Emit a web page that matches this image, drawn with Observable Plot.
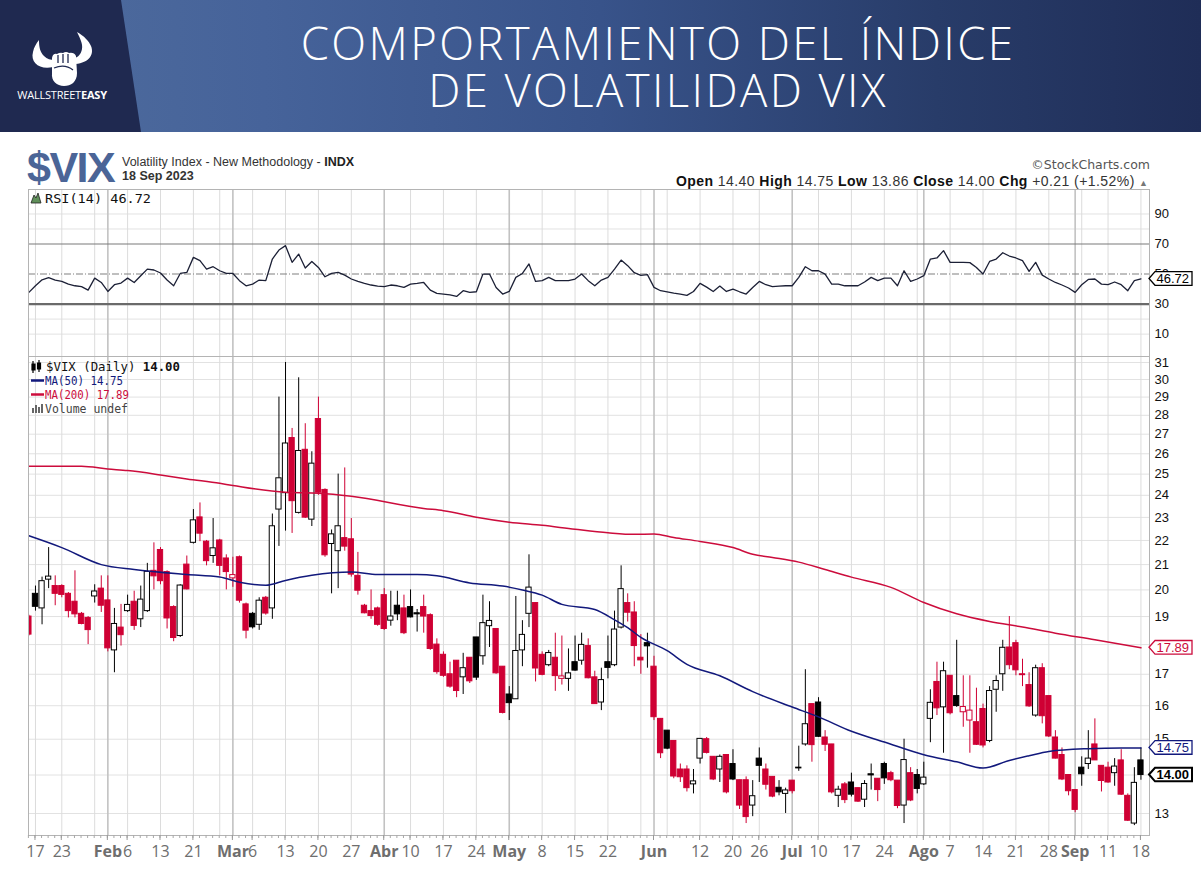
<!DOCTYPE html>
<html lang="es">
<head>
<meta charset="utf-8">
<title>Comportamiento del índice de volatilidad VIX</title>
<script src="https://cdn.jsdelivr.net/npm/d3@7"></script>
<script src="https://cdn.jsdelivr.net/npm/@observablehq/plot@0.6"></script>
<style>
html,body{margin:0;padding:0;background:#fff}
#page{position:relative;width:1201px;height:872px;overflow:hidden;background:#fff}
#hdr{position:absolute;left:0;top:0;width:1201px;height:132px;background:linear-gradient(90deg,#4f6c9d 0%,#46639a 22%,#38538a 50%,#283c69 78%,#1f2d57 100%)}
#logo{position:absolute;left:0;top:0;width:142px;height:132px;background:#1f2950;clip-path:polygon(0 0,121px 0,141px 132px,0 132px)}
#title{position:absolute;left:158px;width:1000px;top:19px;text-align:center;color:#fff;font-family:"Open Sans",sans-serif;font-weight:300;font-size:45.5px;line-height:47px;letter-spacing:2.4px}
.abs{position:absolute;left:0}
</style>
</head>
<body>
<div id="page">
  <div id="hdr"></div>
  <div id="logo">
    <svg width="142" height="132">
      <path d="M53,67 C40,70 30,63 33,52 C34,47 36,44 39,40 C39,47 40,52 44,56 C47,59 51,60 54,60 Z" fill="#fff"/>
      <path d="M73,64 C87,64 95,56 91,46 C89,41 84,36 77,32 C80,38 83,44 82,49 C81,55 77,58 72,59 Z" fill="#fff"/>
      <path d="M52,58 Q53,53 57,54 Q60,52 63,53 Q66,51 69,53 Q74,52 76,56 L77,73 C77,82 71,86 64,86 C57,86 51,81 52,73 Z" fill="#fff"/>
      <path d="M58,55 V63 M63,54 V63 M68,54 V63 M54,68 C61,65 68,66 73,70" stroke="#1f2950" stroke-width="1.3" fill="none"/>
      <text x="62" y="99" text-anchor="middle" font-family="Open Sans" font-size="11" fill="#fff" letter-spacing="-0.2"><tspan font-weight="400">WALLSTREET</tspan><tspan font-weight="700">EASY</tspan></text>
    </svg>
  </div>
  <div id="title">COMPORTAMIENTO DEL ÍNDICE<br>DE VOLATILIDAD VIX</div>
  <svg id="topText" class="abs" style="top:132px" width="1201" height="64">
    <text x="27" y="50" font-family="Liberation Sans" font-weight="700" font-size="43" fill="#4b6597" letter-spacing="-1.5">$VIX</text>
    <text x="122" y="34" font-family="Liberation Sans" font-size="12.5" fill="#333">Volatility Index - New Methodology - <tspan font-weight="700" fill="#222">INDX</tspan></text>
    <text x="122" y="48" font-family="Liberation Sans" font-size="12.5" font-weight="700" fill="#333">18 Sep 2023</text>
    <text x="1150" y="37" text-anchor="end" font-family="DejaVu Sans" font-size="12.5" fill="#555">©StockCharts.com</text>
    <text x="676" y="54" font-family="Liberation Sans" font-size="14" fill="#333" textLength="472" lengthAdjust="spacing"><tspan font-weight="700" fill="#111">Open</tspan> 14.40  <tspan font-weight="700" fill="#111">High</tspan> 14.75  <tspan font-weight="700" fill="#111">Low</tspan> 13.86  <tspan font-weight="700" fill="#111">Close</tspan> 14.00  <tspan font-weight="700" fill="#111">Chg</tspan> +0.21 (+1.52%) <tspan fill="#777" font-size="9">▲</tspan></text>
  </svg>
  <div id="rsi" class="abs" style="top:189px"></div>
  <div id="main" class="abs" style="top:356px"></div>
</div>
<script>
// ---------------- data ----------------
const firstDay = "2023-01-13";
const lastDay = "2023-09-18";
const holidays = ["2023-01-16","2023-02-20","2023-04-07","2023-05-29","2023-06-19","2023-07-04","2023-09-04"];
const closeBeforeStart = 18.83;

const opens = [
  19.0,19.85,19.3,20.4,20.15,20.15,19.85,19.55,19.1,18.95,
  19.75,20.05,19.6,17.8,18.6,19.2,19.55,18.9,19.2,20.75,
  21.6,20.7,19.35,18.3,21.0,21.9,23.0,21.95,21.35,22.0,
  21.25,20.45,21.3,19.45,19.1,18.7,19.7,19.3,23.35,24.1,
  26.8,23.2,26.2,22.9,27.8,24.25,21.85,21.55,22.1,22.05,
  20.55,19.4,19.2,19.3,19.8,18.85,19.4,19.3,19.35,19.12,
  19.35,19.05,18.0,17.65,17.0,17.45,16.9,17.55,18.25,17.6,
  18.65,18.55,17.25,16.35,16.2,17.8,19.1,19.5,17.65,17.3,
  17.55,16.85,16.85,17.4,17.45,17.95,16.9,16.1,17.4,17.3,
  18.6,19.5,19.15,17.55,18.05,17.25,15.6,15.25,14.95,14.15,
  14.15,13.75,14.45,15.0,14.5,14.15,14.55,14.3,13.86,13.86,
  13.2,14.45,14.15,13.95,13.66,13.5,13.85,14.2,14.85,16.05,
  16.1,15.05,14.85,13.45,13.75,13.8,13.65,13.35,14.02,13.9,
  14.3,14.05,13.85,13.2,14.05,14.0,13.75,15.6,16.75,15.95,
  16.95,16.3,15.8,15.55,15.5,15.9,14.95,16.5,17.0,17.9,
  18.05,17.0,16.65,15.7,17.2,16.3,15.05,14.55,14.0,13.6,
  14.2,14.3,14.85,14.25,14.2,14.05,14.4,13.45,12.75,14.40
];
const highs = [
  19.05,20.15,20.5,21.7,20.55,20.2,19.9,20.75,19.15,19.0,
  20.2,20.55,20.55,19.3,19.45,19.8,19.95,20.15,21.05,21.9,
  21.7,20.75,19.4,20.2,21.35,23.35,23.65,22.0,22.95,22.05,
  21.4,21.3,21.35,19.5,19.15,19.7,19.75,23.15,29.0,31.0,
  27.3,30.1,27.55,26.1,29.0,24.3,22.45,25.0,25.3,22.95,
  21.5,19.45,20.0,19.35,20.05,19.95,19.95,19.8,20.0,19.26,
  19.8,19.1,18.2,17.75,17.4,17.45,17.7,17.55,18.25,19.8,
  19.55,18.55,17.25,16.6,19.75,18.85,21.4,19.5,17.75,17.8,
  18.4,18.3,17.85,18.3,18.4,18.2,17.1,17.2,18.3,19.2,
  20.95,19.85,19.55,18.35,18.4,17.6,15.6,15.25,14.95,14.3,
  14.25,14.15,15.01,15.05,14.5,14.55,14.55,14.7,13.86,13.95,
  13.85,14.75,14.3,13.95,13.85,13.65,13.85,14.8,17.15,16.05,
  16.25,15.25,14.85,13.7,13.8,14.05,13.65,13.85,14.3,13.9,
  14.35,14.1,13.85,15.0,14.2,14.15,14.35,16.5,17.4,17.4,
  16.95,18.15,16.95,16.95,16.55,16.05,16.6,16.95,18.15,19.0,
  18.15,17.5,17.05,17.3,17.35,16.3,15.25,14.75,14.0,13.6,
  14.5,15.25,15.6,14.25,14.35,14.45,14.7,13.5,14.2,14.75
];
const lows = [
  18.3,19.2,18.7,20.05,19.4,19.7,18.95,18.95,18.7,18.0,
  19.5,19.15,17.75,17.05,17.95,19.15,18.5,18.6,19.15,20.0,
  20.2,18.55,18.1,18.25,20.0,21.85,21.95,20.95,21.05,20.55,
  20.0,20.1,19.5,18.2,18.55,18.5,19.05,18.9,21.75,22.4,
  22.3,23.15,22.95,22.6,24.0,21.3,19.85,20.05,21.55,20.5,
  19.8,19.1,18.9,18.65,18.5,18.65,18.85,18.35,18.95,18.44,
  18.4,17.8,17.0,16.9,16.55,16.25,16.35,16.7,16.8,17.3,
  17.9,17.0,15.75,15.55,16.2,17.25,18.6,16.75,16.95,17.25,
  16.45,16.65,16.45,17.1,17.3,16.85,16.05,15.85,16.85,17.25,
  18.55,18.8,17.25,17.0,17.2,15.55,14.45,14.7,13.9,13.8,
  13.55,13.5,14.3,14.58,13.85,13.8,13.5,13.85,13.1,12.75,
  12.92,13.8,13.6,13.4,13.45,13.0,13.5,14.1,14.8,14.35,
  15.05,14.65,13.5,13.15,13.25,13.42,13.28,13.15,13.6,13.3,
  13.75,13.82,13.12,12.75,13.3,13.5,13.72,14.9,15.7,14.6,
  15.72,15.95,15.35,14.6,14.82,14.75,14.9,15.8,16.45,17.15,
  16.95,16.6,15.95,15.65,15.45,15.05,14.44,13.85,13.45,13.02,
  13.7,14.15,14.4,13.55,13.78,13.7,13.46,12.8,12.7,13.86
];
const closes = [
  18.35,19.36,20.34,20.52,19.85,19.81,19.20,19.08,18.73,18.51,
  19.94,19.40,17.87,18.73,18.33,19.43,18.66,19.63,20.71,20.53,
  20.34,18.93,18.23,20.17,20.02,22.87,22.29,21.14,21.67,20.95,
  20.70,20.58,19.59,18.49,18.61,19.59,19.11,22.61,24.80,26.52,
  23.73,26.14,22.99,25.51,24.12,21.38,22.26,22.61,21.74,20.60,
  19.97,19.12,19.02,18.70,18.55,19.00,19.08,18.40,18.97,19.08,
  19.00,17.85,17.07,16.95,16.60,16.46,17.20,16.77,16.89,18.76,
  18.84,17.03,15.78,16.08,17.78,18.34,20.09,17.19,16.98,17.71,
  16.94,16.93,17.03,17.12,17.99,16.87,16.05,16.81,17.21,18.53,
  20.03,19.14,17.95,17.46,17.94,15.65,14.60,14.73,13.96,13.94,
  13.65,13.83,15.01,14.61,13.88,14.50,13.54,13.88,13.20,12.91,
  13.44,14.25,13.74,13.43,13.54,13.59,13.57,14.18,15.44,14.83,
  15.07,14.84,13.54,13.61,13.34,13.48,13.30,13.76,13.99,13.60,
  13.91,13.86,13.19,14.41,13.33,13.63,13.93,16.09,15.92,17.10,
  15.77,15.99,15.96,15.85,14.84,14.82,16.46,16.78,17.89,17.30,
  17.13,16.97,15.98,17.20,15.68,15.08,14.45,13.88,13.57,13.09,
  14.02,14.45,14.40,13.84,13.80,14.23,13.48,12.82,13.79,14.00
];
const rsiValues = [
  37.8,42.2,46.2,47.6,46.0,45.1,43.3,42.2,41.6,39.3,
  47.3,44.4,38.4,42.9,44.0,47.3,44.4,48.9,53.3,52.7,
  50.7,46.0,42.2,50.4,51.1,61.1,58.9,53.3,54.9,52.2,
  50.4,50.4,45.6,42.2,43.3,46.0,45.6,60.0,66.0,68.9,
  57.8,63.3,54.0,58.4,54.4,48.2,50.4,51.1,49.3,46.7,
  45.1,43.8,42.7,42.0,41.6,42.7,42.2,41.1,43.3,43.8,
  44.4,39.3,37.1,36.7,36.2,35.1,38.9,37.8,38.2,50.0,
  50.0,41.1,36.7,38.4,47.8,50.4,56.7,45.1,45.6,47.8,
  45.6,45.6,45.6,46.7,50.0,45.6,42.2,46.0,47.8,53.3,
  59.3,55.6,50.9,49.1,49.6,41.1,38.9,38.2,37.3,36.7,
  35.8,38.4,43.8,41.3,38.4,42.0,38.4,40.0,38.2,36.7,
  41.1,45.1,42.9,41.6,42.0,42.2,42.2,47.8,54.9,52.2,
  52.2,50.0,43.3,43.3,42.2,42.2,42.2,44.7,47.8,45.6,
  47.3,47.3,42.2,52.2,45.1,46.7,48.9,60.0,60.7,65.6,
  57.8,57.8,57.8,57.6,54.4,50.0,58.4,60.0,64.2,62.0,
  60.7,58.9,51.8,57.8,49.3,46.7,44.4,42.7,40.7,37.8,
  42.9,46.4,46.7,43.3,42.9,44.7,42.9,38.9,45.6,46.72
];
// moving averages at selected sessions (session number from Jan 13)
const ma50Session = [0,5,11,16,24,29,32,36,39,43,49,53,59,62,67,72,75,78,81,86,89,91,93,97,100,105,110,116,120,125,130,136,141,145,149,152,155,161,166,169];
const ma50Values  = [22.2,21.7,21.0,20.8,20.6,20.5,20.3,20.18,20.37,20.57,20.7,20.6,20.6,20.55,20.27,20.15,20.0,19.8,19.45,19.26,18.88,18.6,18.25,17.79,17.33,16.95,16.44,15.96,15.66,15.23,14.92,14.56,14.36,14.19,14.4,14.53,14.65,14.73,14.75,14.75];
const ma200Session = [0,8,12,15,20,24,29,31,39,44,49,60,63,68,73,78,83,88,92,95,98,102,107,110,113,117,121,125,131,136,141,146,151,156,162,169];
const ma200Values  = [25.38,25.38,25.25,25.17,24.96,24.77,24.56,24.46,24.14,24.1,23.96,23.4,23.3,23.01,22.79,22.65,22.48,22.33,22.26,22.28,22.13,21.96,21.7,21.42,21.29,21.1,20.8,20.5,20.1,19.52,19.1,18.82,18.62,18.4,18.17,17.89];

const tickDates = ["2023-01-17","2023-01-23","2023-02-01","2023-02-06","2023-02-13","2023-02-21","2023-03-01","2023-03-06","2023-03-13","2023-03-20","2023-03-27","2023-04-03","2023-04-10","2023-04-17","2023-04-24","2023-05-01","2023-05-08","2023-05-15","2023-05-22","2023-06-01","2023-06-12","2023-06-20","2023-06-26","2023-07-03","2023-07-10","2023-07-17","2023-07-24","2023-08-01","2023-08-07","2023-08-14","2023-08-21","2023-08-28","2023-09-01","2023-09-11","2023-09-18"];
const tickLabels = ["17","23","Feb","6","13","21","Mar","6","13","20","27","Abr","10","17","24","May","8","15","22","Jun","12","20","26","Jul","10","17","24","Ago","7","14","21","28","Sep","11","18"];
const priceGrid = [13,14,15,16,17,18,19,20,21,22,23,24,25,26,27,28,29,30,31];
const priceLabels = [13,15,16,17,19,20,21,22,23,24,25,26,27,28,29,30,31]; // 14 and 18 sit under the value tags
const rsiTicks = [10,30,50,70,90];
const rsiGrid = [10,20,80,90];

// ---------------- build ----------------
const days = [];
for (let t = Date.parse(firstDay); t <= Date.parse(lastDay); t += 864e5) {
  const d = new Date(t), dow = d.getUTCDay(), s = d.toISOString().slice(0, 10);
  if (dow === 0 || dow === 6 || holidays.includes(s)) continue;
  days.push(s);
}
const dayIndex = new Map(days.map((d, i) => [d, i]));
const weekLines = [], monthLines = [];
days.forEach((s, i) => {
  if (i === 0) return;
  const d = new Date(s), p = new Date(days[i - 1]);
  if (d.getUTCMonth() !== p.getUTCMonth()) monthLines.push(i);
  else if (d.getUTCDay() <= p.getUTCDay()) weekLines.push(i);
});

const RED = "#cf0034", NAVY = "#12197c", CRIMSON = "#cc0c3c";
const candles = days.map((date, i) => {
  const o = opens[i], h = highs[i], l = lows[i], c = closes[i];
  const prev = i === 0 ? closeBeforeStart : closes[i - 1];
  const col = c < prev ? RED : "#000000";
  return {i, date, o, h, l, c, col, hollow: c > o};
});
const rsiData = rsiValues.map((v, i) => ({i, v}));
const ma50 = ma50Session.map((i, k) => ({i, v: ma50Values[k]}));
const ma200 = ma200Session.map((i, k) => ({i, v: ma200Values[k]}));
const xTicks = tickDates.map((d, k) => ({i: dayIndex.get(d), label: tickLabels[k], month: isNaN(+tickLabels[k])}));

const W = 1201, ML = 28, MR = 52;
const xDomain = [-0.06, 170.3];
const yDomain = [12.46, 31.36];
const rsiDomain = [-4.9, 106.3];
const gridMarks = [
  Plot.ruleX(weekLines, {x: d => d, stroke: "#dcdcdc"}),
  Plot.ruleX(monthLines, {x: d => d, stroke: "#c2c2c2", strokeWidth: 1.6})
];

// RSI panel
const rsiChart = Plot.plot({
  width: W, height: 167, marginLeft: ML, marginRight: MR, marginTop: 0, marginBottom: 0,
  style: {background: "transparent", fontFamily: "Liberation Sans", overflow: "visible"},
  x: {domain: xDomain, axis: null},
  y: {domain: rsiDomain, axis: null},
  marks: [
    Plot.ruleY(rsiGrid, {stroke: "#e2e2e2"}),
    ...gridMarks,
    Plot.ruleY([70], {stroke: "#7a7a7a", strokeWidth: 1.2}),
    Plot.ruleY([30], {stroke: "#6a6a6a", strokeWidth: 2.2}),
    Plot.ruleY([50], {stroke: "#808080", strokeWidth: 1.1, strokeDasharray: "7,2,1,2"}),
    Plot.line(rsiData, {x: "i", y: "v", stroke: "#1c2036", strokeWidth: 1.3}),
    Plot.text(rsiTicks, {x: xDomain[1], y: d => d, text: d => String(d), dx: 5, textAnchor: "start", fontSize: 13, fill: "#111"}),
    Plot.frame({stroke: "#b4b4b4"})
  ]
});
document.getElementById("rsi").append(rsiChart);

// Price panel
const mainChart = Plot.plot({
  width: W, height: 516, marginLeft: ML, marginRight: MR, marginTop: 0, marginBottom: 37,
  style: {background: "transparent", fontFamily: "Liberation Sans", overflow: "visible"},
  color: {type: "identity"},
  x: {domain: xDomain, axis: null},
  y: {type: "log", domain: yDomain, axis: null},
  marks: [
    Plot.ruleY(priceGrid, {stroke: "#e2e2e2"}),
    ...gridMarks,
    Plot.ruleX(candles, {x: "i", y1: "l", y2: "h", stroke: "col", strokeWidth: 1, clip: true}),
    Plot.rect(candles, {
      x1: d => d.i - 0.4, x2: d => d.i + 0.4,
      y1: d => Math.min(d.o, d.c), y2: d => Math.max(d.o, d.c),
      fill: d => d.hollow ? "#ffffff" : d.col, stroke: "col", strokeWidth: 1, clip: true
    }),
    Plot.line(ma200, {x: "i", y: "v", stroke: CRIMSON, strokeWidth: 1.5, curve: "monotone-x"}),
    Plot.line(ma50, {x: "i", y: "v", stroke: NAVY, strokeWidth: 1.5, curve: "monotone-x"}),
    Plot.text(priceLabels, {x: xDomain[1], y: d => d, text: d => String(d), dx: 5, textAnchor: "start", fontSize: 13, fill: "#111"}),
    Plot.text(xTicks.filter(d => !d.month), {x: "i", y: yDomain[0], text: "label", dy: 16, fontSize: 16, fill: "#6e6e6e", fontFamily: "Open Sans"}),
    Plot.text(xTicks.filter(d => d.month), {x: "i", y: yDomain[0], text: "label", dy: 16, fontSize: 16, fontWeight: 700, fill: "#6e6e6e", fontFamily: "Open Sans"}),
    Plot.frame({stroke: "#b4b4b4"})
  ]
});
document.getElementById("main").append(mainChart);

// ---------------- annotations using the plot scales ----------------
const sx = mainChart.scale("x"), sy = mainChart.scale("y"), sr = rsiChart.scale("y");
const xRight = sx.apply(xDomain[1]);
const mainSvg = d3.select(mainChart), rsiSvg = d3.select(rsiChart);

// day ticks under the axis
const bottom = sy.apply(yDomain[0]);
mainSvg.append("g").selectAll("line").data(candles).join("line")
  .attr("x1", d => sx.apply(d.i)).attr("x2", d => sx.apply(d.i))
  .attr("y1", bottom).attr("y2", bottom + 3).attr("stroke", "#a8a8a8");
mainSvg.append("g").selectAll("line").data(xTicks).join("line")
  .attr("x1", d => sx.apply(d.i)).attr("x2", d => sx.apply(d.i))
  .attr("y1", bottom).attr("y2", bottom + 5).attr("stroke", "#999");

function tag(svg, y, label, color, bold) {
  const h = 6.8, x0 = xRight, x1 = xRight + 6, x2 = xRight + 43;
  const g = svg.append("g").attr("text-anchor", "start");
  g.append("path").attr("d", `M${x0},${y}L${x1},${y - h}H${x2}V${y + h}H${x1}Z`)
    .attr("fill", "#fff").attr("stroke", color).attr("stroke-width", bold ? 2 : 1.3);
  g.append("text").attr("x", x1 + 1.5).attr("y", y + 4.6).attr("fill", color).attr("text-anchor", "start")
    .attr("font-family", "Liberation Sans").attr("font-size", 13).attr("font-weight", bold ? 700 : 400)
    .text(label);
}
tag(mainSvg, sy.apply(ma200Values[ma200Values.length - 1]), ma200Values[ma200Values.length - 1].toFixed(2), CRIMSON, false);
tag(mainSvg, sy.apply(ma50Values[ma50Values.length - 1]), ma50Values[ma50Values.length - 1].toFixed(2), NAVY, false);
tag(mainSvg, sy.apply(closes[closes.length - 1]), closes[closes.length - 1].toFixed(2), "#000", true);
tag(rsiSvg, sr.apply(rsiValues[rsiValues.length - 1]), rsiValues[rsiValues.length - 1].toFixed(2), "#000", false);

// legends
const mono = "DejaVu Sans Mono";
const rg = rsiSvg.append("g").attr("text-anchor", "start");
rg.append("path").attr("d", "M31,14 L34,6 L36,9 L38,4 L41,14 Z").attr("fill", "#5f8f59").attr("stroke", "#222").attr("stroke-width", 0.8);
rg.append("text").attr("x", 45).attr("y", 14).attr("font-family", mono).attr("font-size", 12.5).attr("text-anchor", "start")
  .attr("textLength", 106).attr("lengthAdjust", "spacingAndGlyphs").attr("fill", "#111")
  .text("RSI(14) " + rsiValues[rsiValues.length - 1].toFixed(2));

const lg = mainSvg.append("g").attr("text-anchor", "start");
lg.append("path").attr("d", "M33,5 V17 M32,8 h3 v6 h-3 Z M39,4 V16 M37.5,7 h3 v6 h-3 Z").attr("stroke", "#000").attr("stroke-width", 1.2).attr("fill", "#000");
lg.append("text").attr("x", 46).attr("y", 15).attr("font-family", mono).attr("font-size", 12.5).attr("fill", "#111").attr("text-anchor", "start")
  .attr("textLength", 134).attr("lengthAdjust", "spacingAndGlyphs")
  .html(`$VIX (Daily) <tspan font-weight="700">${closes[closes.length - 1].toFixed(2)}</tspan>`);
lg.append("line").attr("x1", 31).attr("x2", 44).attr("y1", 24.5).attr("y2", 24.5).attr("stroke", NAVY).attr("stroke-width", 2.5);
lg.append("text").attr("x", 45).attr("y", 29).attr("font-family", mono).attr("font-size", 12).attr("fill", NAVY).attr("text-anchor", "start")
  .attr("textLength", 78).attr("lengthAdjust", "spacingAndGlyphs").text("MA(50) " + ma50Values[ma50Values.length - 1].toFixed(2));
lg.append("line").attr("x1", 31).attr("x2", 44).attr("y1", 38.5).attr("y2", 38.5).attr("stroke", CRIMSON).attr("stroke-width", 2.5);
lg.append("text").attr("x", 45).attr("y", 43).attr("font-family", mono).attr("font-size", 12).attr("fill", CRIMSON).attr("text-anchor", "start")
  .attr("textLength", 84).attr("lengthAdjust", "spacingAndGlyphs").text("MA(200) " + ma200Values[ma200Values.length - 1].toFixed(2));
lg.append("path").attr("d", "M32,57 v-5 h2 v5 Z M35,57 v-8 h2 v8 Z M38,57 v-6 h2 v6 Z M41,57 v-9 h2 v9 Z").attr("fill", "#666");
lg.append("text").attr("x", 45).attr("y", 57).attr("font-family", mono).attr("font-size", 12).attr("fill", "#444").attr("text-anchor", "start")
  .attr("textLength", 83).attr("lengthAdjust", "spacingAndGlyphs").text("Volume undef");
</script>
</body>
</html>
